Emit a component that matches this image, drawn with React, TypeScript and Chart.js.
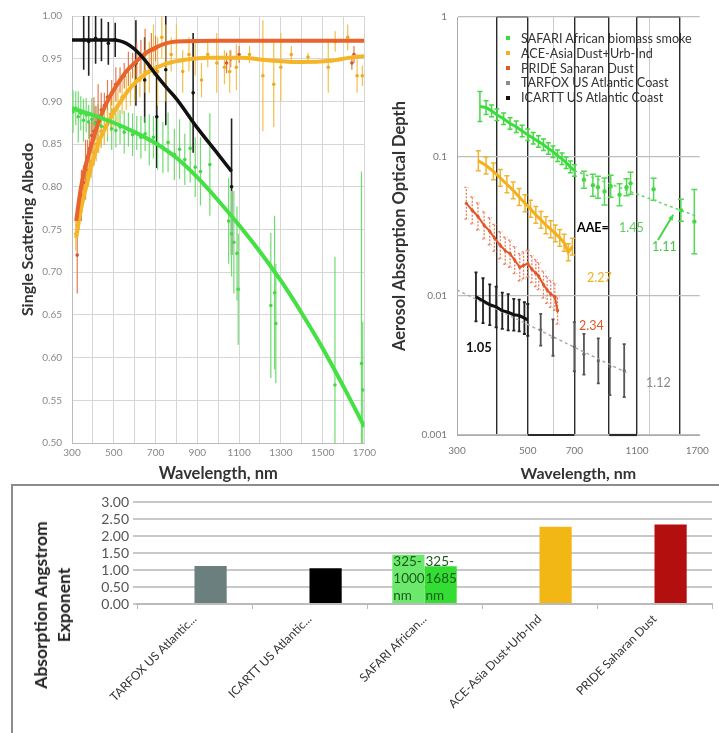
import React, { useEffect, useRef } from "react";
import { Chart, registerables } from "chart.js";
Chart.register(...registerables);

const FONT = 'Lato, "Liberation Sans", "DejaVu Sans", sans-serif';
Chart.defaults.font.family = FONT;

// ================= Panel 1: Single Scattering Albedo =================
const ssaXLabels = [300, 500, 700, 900, 1100, 1300, 1500, 1700];

const ssaSafariWl = [305, 318, 330, 342, 355, 368, 380, 395, 410, 425, 440, 455, 470, 490, 510, 530, 550, 570, 590, 610, 630, 650, 670, 690, 710, 735, 760, 790, 815, 840, 866, 890, 915, 960, 1050, 1064, 1075, 1090, 1096, 1252, 1270, 1276, 1559, 1686, 1692];
const ssaSafariVal = [0.888, 0.892, 0.882, 0.886, 0.878, 0.884, 0.876, 0.879, 0.874, 0.877, 0.871, 0.869, 0.873, 0.868, 0.866, 0.870, 0.864, 0.867, 0.861, 0.863, 0.858, 0.862, 0.855, 0.858, 0.850, 0.846, 0.852, 0.838, 0.844, 0.832, 0.845, 0.823, 0.818, 0.826, 0.760, 0.745, 0.735, 0.722, 0.680, 0.661, 0.676, 0.640, 0.568, 0.593, 0.562];
const ssaSafariErr = [0.025, 0.02, 0.03, 0.02, 0.025, 0.02, 0.02, 0.025, 0.02, 0.02, 0.025, 0.02, 0.02, 0.025, 0.02, 0.02, 0.025, 0.02, 0.025, 0.02, 0.025, 0.02, 0.03, 0.025, 0.03, 0.03, 0.035, 0.03, 0.035, 0.03, 0.04, 0.035, 0.04, 0.06, 0.05, 0.05, 0.06, 0.055, 0.065, 0.085, 0.09, 0.07, 0.15, 0.225, 0.08];

const ssaAceWl = [318, 326, 334, 342, 350, 360, 370, 380, 392, 404, 416, 428, 440, 455, 470, 485, 500, 520, 540, 560, 580, 600, 625, 650, 670, 690, 710, 730, 750, 775, 800, 830, 860, 890, 920, 950, 993, 1030, 1055, 1087, 1150, 1214, 1266, 1300, 1350, 1430, 1527, 1560, 1620, 1665, 1690];
const ssaAceVal = [0.745, 0.755, 0.77, 0.78, 0.79, 0.80, 0.815, 0.82, 0.83, 0.84, 0.85, 0.855, 0.865, 0.87, 0.875, 0.885, 0.89, 0.895, 0.905, 0.91, 0.915, 0.92, 0.925, 0.935, 0.94, 0.96, 0.935, 0.975, 0.945, 0.955, 0.97, 0.935, 0.955, 0.95, 0.925, 0.955, 0.945, 0.94, 0.935, 0.94, 0.955, 0.93, 0.92, 0.94, 0.955, 0.952, 0.94, 0.97, 0.975, 0.93, 0.93];
const ssaAceErr = [0.02, 0.015, 0.02, 0.015, 0.02, 0.015, 0.02, 0.02, 0.02, 0.015, 0.02, 0.015, 0.02, 0.02, 0.015, 0.02, 0.02, 0.02, 0.02, 0.02, 0.02, 0.02, 0.02, 0.025, 0.03, 0.03, 0.04, 0.025, 0.045, 0.02, 0.02, 0.025, 0.02, 0.02, 0.02, 0.015, 0.035, 0.02, 0.025, 0.027, 0.01, 0.065, 0.05, 0.04, 0.01, 0.005, 0.03, 0.012, 0.015, 0.02, 0.012];

const ssaPrideWl = [325, 335, 345, 355, 365, 375, 385, 395, 405, 415, 425, 440, 455, 470, 490, 510, 530, 550, 570, 590, 610, 630, 650, 680, 700, 1040, 1060, 1100, 1640, 1650];
const ssaPrideVal = [0.72, 0.77, 0.79, 0.805, 0.82, 0.835, 0.845, 0.86, 0.865, 0.875, 0.88, 0.89, 0.895, 0.905, 0.91, 0.92, 0.925, 0.93, 0.938, 0.942, 0.948, 0.952, 0.955, 0.96, 0.962, 0.945, 0.95, 0.955, 0.945, 0.955];
const ssaPrideErr = [0.045, 0.02, 0.03, 0.02, 0.035, 0.02, 0.03, 0.02, 0.04, 0.02, 0.04, 0.02, 0.015, 0.02, 0.015, 0.02, 0.015, 0.015, 0.02, 0.015, 0.02, 0.02, 0.03, 0.02, 0.015, 0.012, 0.01, 0.01, 0.008, 0.01];

const ssaIcarttWl = [356, 380, 413, 441, 474, 507, 606, 648, 706, 749, 880, 1064];
const ssaIcarttVal = [0.972, 0.970, 0.974, 0.972, 0.968, 0.972, 0.945, 0.925, 0.882, 0.937, 0.910, 0.800];
const ssaIcarttErr = [0.035, 0.04, 0.03, 0.025, 0.025, 0.02, 0.05, 0.05, 0.06, 0.065, 0.07, 0.08];

const fitSafariWl = [300, 400, 500, 600, 700, 800, 900, 1000, 1100, 1200, 1300, 1400, 1500, 1600, 1700];
const fitSafariVal = [0.892, 0.884, 0.875, 0.864, 0.851, 0.834, 0.811, 0.784, 0.755, 0.724, 0.690, 0.652, 0.611, 0.566, 0.519];
const fitPrideWl = [320, 340, 360, 380, 400, 440, 480, 520, 560, 600, 650, 700, 750, 800, 1000, 1700];
const fitPrideVal = [0.76, 0.795, 0.82, 0.838, 0.855, 0.884, 0.905, 0.921, 0.935, 0.945, 0.956, 0.963, 0.968, 0.970, 0.971, 0.971];
const fitAceWl = [320, 340, 360, 380, 400, 430, 470, 520, 580, 650, 750, 850, 950, 1100, 1250, 1400, 1550, 1650, 1700];
const fitAceVal = [0.74, 0.77, 0.792, 0.812, 0.83, 0.853, 0.874, 0.895, 0.916, 0.932, 0.944, 0.949, 0.951, 0.951, 0.948, 0.946, 0.948, 0.952, 0.953];
const fitIcarttWl = [300, 400, 500, 560, 600, 650, 700, 757, 800, 900, 1000, 1064];
const fitIcarttVal = [0.972, 0.972, 0.972, 0.968, 0.961, 0.948, 0.932, 0.915, 0.903, 0.869, 0.838, 0.818];

// ================= Panel 2: Aerosol Absorption Optical Depth =================
const aodXGrid = [300, 400, 500, 600, 700, 900, 1100, 1200, 1500, 1700];
const aodXLabels = [300, 500, 700, 1100, 1700];
const aodDarkLines = [400, 500, 700, 900, 1100, 1500];
const aodYTicks = [0.001, 0.01, 0.1, 1];
const aodBottomBands = [[500, 700], [900, 1100]];
const aodTopBands = [[400, 500], [700, 900], [1100, 1500]];

const aodSafariWl = [354, 370, 385, 400, 420, 440, 460, 480, 500, 520, 540, 560, 580, 600, 620, 640, 660, 680, 700];
const aodSafariVal = [0.228, 0.224, 0.212, 0.199, 0.186, 0.172, 0.163, 0.152, 0.143, 0.135, 0.128, 0.121, 0.114, 0.108, 0.101, 0.096, 0.090, 0.084, 0.079];
const aodSafariFac = [1.28, 1.12, 1.1, 1.1, 1.1, 1.1, 1.1, 1.1, 1.1, 1.1, 1.1, 1.1, 1.1, 1.1, 1.1, 1.1, 1.1, 1.1, 1.1];
const aodSafariFarWl = [750, 800, 830, 870, 910, 970, 1020, 1050, 1240, 1510, 1664];
const aodSafariFarVal = [0.068, 0.062, 0.060, 0.056, 0.061, 0.053, 0.060, 0.064, 0.058, 0.041, 0.034];
const aodSafariFarFac = [1.15, 1.2, 1.2, 1.25, 1.2, 1.2, 1.15, 1.2, 1.2, 1.2, 1.7];
const aodSafariFitWl = [700, 1700];
const aodSafariFitVal = [0.079, 0.037];

const aodAceWl = [350, 370, 390, 410, 430, 450, 470, 490, 510, 530, 550, 570, 590, 610, 630, 650, 670, 690];
const aodAceVal = [0.093, 0.086, 0.078, 0.070, 0.063, 0.057, 0.051, 0.046, 0.042, 0.038, 0.035, 0.032, 0.030, 0.028, 0.026, 0.024, 0.0205, 0.0225];
const aodAceFac = [1.18, 1.15, 1.15, 1.15, 1.15, 1.15, 1.15, 1.15, 1.15, 1.15, 1.15, 1.15, 1.15, 1.15, 1.15, 1.15, 1.15, 1.15];

const aodPrideWl = [321, 335, 349, 365, 380, 393, 410, 425, 440, 455, 472, 485, 500, 515, 530, 541, 560, 575, 590, 608, 620];
const aodPrideVal = [0.046, 0.041, 0.037, 0.032, 0.029, 0.026, 0.023, 0.021, 0.020, 0.018, 0.016, 0.0165, 0.017, 0.0155, 0.0145, 0.0138, 0.012, 0.011, 0.0103, 0.0098, 0.0078];
const aodPrideFac = [1.3, 1.25, 1.25, 1.25, 1.25, 1.25, 1.25, 1.25, 1.25, 1.25, 1.25, 1.25, 1.25, 1.25, 1.25, 1.25, 1.25, 1.25, 1.25, 1.25, 1.25];

const aodTarfoxWl = [549, 600, 700, 750, 832, 904, 1003];
const aodTarfoxVal = [0.0057, 0.0050, 0.0043, 0.0038, 0.0034, 0.0031, 0.0029];
const aodTarfoxFac = [1.3, 1.35, 1.5, 1.4, 1.45, 1.6, 1.55];
const aodTarfoxFitWl = [300, 1020];
const aodTarfoxFitVal = [0.0110, 0.0028];

const aodIcarttWl = [344, 362, 380, 398, 416, 434, 452, 470, 488, 500];
const aodIcarttVal = [0.0098, 0.0092, 0.0086, 0.0083, 0.0078, 0.0076, 0.0073, 0.0072, 0.0069, 0.0067];
const aodIcarttFac = [1.5, 1.45, 1.4, 1.4, 1.35, 1.35, 1.3, 1.3, 1.3, 1.3];

const aodArrowWl = [1280, 1429];
const aodArrowVal = [0.0251, 0.0381];

const legendItems = [
  { label: "SAFARI African biomass smoke", color: "#3cdc3c" },
  { label: "ACE-Asia Dust+Urb-Ind", color: "#f2b01e" },
  { label: "PRIDE Saharan Dust", color: "#e0582a" },
  { label: "TARFOX US Atlantic Coast", color: "#8a8a8a" },
  { label: "ICARTT US Atlantic Coast", color: "#111111" },
];

// ================= Panel 3: Absorption Angstrom Exponent =================
const aaeCategories = ["TARFOX US Atlantic...", "ICARTT US Atlantic...", "SAFARI African...", "ACE-Asia Dust+Urb-Ind", "PRIDE Saharan Dust"];
const aaeShortRange = [null, null, 1.45, null, null];
const aaeMain = [1.12, 1.05, 1.11, 2.27, 2.34];
const aaeYTicks = [0, 0.5, 1, 1.5, 2, 2.5, 3];
const aaeShortLabel = ["325-", "1000", "nm"];
const aaeLongLabel = ["325-", "1685", "nm"];

// ================= helpers =================
const GREEN = "#3cdc3c";
const ORANGE = "#f2b01e";
const RED = "#e0582a";
const BLACK = "#111111";

function pts(xs: number[], ys: number[]) {
  return xs.map((x, i) => ({ x, y: ys[i] }));
}
function linErr(v: number[], e: number[]) {
  return { lo: v.map((y, i) => y - e[i]), hi: v.map((y, i) => y + e[i]) };
}
function logErr(v: number[], f: number[]) {
  return { lo: v.map((y, i) => y / f[i]), hi: v.map((y, i) => y * f[i]) };
}

const errorBarPlugin = {
  id: "errorBars",
  beforeDatasetsDraw(chart: any) {
    const { ctx, chartArea, scales } = chart;
    ctx.save();
    ctx.beginPath();
    ctx.rect(chartArea.left, chartArea.top, chartArea.right - chartArea.left, chartArea.bottom - chartArea.top);
    ctx.clip();
    chart.data.datasets.forEach((ds: any, di: number) => {
      if (!ds.errLo) return;
      const meta = chart.getDatasetMeta(di);
      const xs = scales[meta.xAxisID];
      const ys = scales[meta.yAxisID];
      ctx.strokeStyle = ds.errColor;
      ctx.lineWidth = ds.errWidth || 1;
      ctx.setLineDash(ds.errDash || []);
      const cap = ds.errCap || 0;
      ds.data.forEach((p: any, i: number) => {
        const x = xs.getPixelForValue(p.x);
        const y1 = ys.getPixelForValue(ds.errLo[i]);
        const y2 = ys.getPixelForValue(ds.errHi[i]);
        ctx.beginPath();
        ctx.moveTo(x, y1);
        ctx.lineTo(x, y2);
        if (cap) {
          ctx.moveTo(x - cap, y1);
          ctx.lineTo(x + cap, y1);
          ctx.moveTo(x - cap, y2);
          ctx.lineTo(x + cap, y2);
        }
        ctx.stroke();
      });
    });
    ctx.restore();
  },
};

function pointSet(label: string, xs: number[], ys: number[], err: { lo: number[]; hi: number[] }, color: string, errColor: string, extra: any = {}) {
  return {
    label,
    data: pts(xs, ys),
    errLo: err.lo,
    errHi: err.hi,
    errColor,
    errWidth: 1.2,
    showLine: false,
    pointRadius: 1.8,
    pointBackgroundColor: color,
    pointBorderColor: color,
    pointBorderWidth: 0,
    borderColor: color,
    ...extra,
  };
}
function lineSet(label: string, xs: number[], ys: number[], color: string, width: number, extra: any = {}) {
  return {
    label,
    data: pts(xs, ys),
    showLine: true,
    borderColor: color,
    backgroundColor: color,
    borderWidth: width,
    pointRadius: 0,
    cubicInterpolationMode: "monotone",
    fill: false,
    ...extra,
  };
}

function ssaConfig(): any {
  return {
    type: "scatter",
    data: {
      datasets: [
        lineSet("ICARTT fit", fitIcarttWl, fitIcarttVal, BLACK, 3.5),
        lineSet("SAFARI fit", fitSafariWl, fitSafariVal, "#44e044", 4),
        lineSet("PRIDE fit", fitPrideWl, fitPrideVal, "#e8642c", 4),
        lineSet("ACE fit", fitAceWl, fitAceVal, "#f5b52a", 4),
        pointSet("ICARTT", ssaIcarttWl, ssaIcarttVal, linErr(ssaIcarttVal, ssaIcarttErr), BLACK, "#222", { errWidth: 1.6 }),
        pointSet("SAFARI", ssaSafariWl, ssaSafariVal, linErr(ssaSafariVal, ssaSafariErr), "#44d844", "#6fdc6f"),
        pointSet("PRIDE", ssaPrideWl, ssaPrideVal, linErr(ssaPrideVal, ssaPrideErr), "#d9542a", "#e07a50"),
        pointSet("ACE", ssaAceWl, ssaAceVal, linErr(ssaAceVal, ssaAceErr), "#eeaa20", "#f3c04a"),
      ],
    },
    options: {
      animation: false,
      responsive: false,
      devicePixelRatio: 1,
      layout: { padding: { top: 14, right: 8, left: 16, bottom: 0 } },
      plugins: { legend: { display: false }, tooltip: { enabled: false } },
      scales: {
        x: {
          type: "linear",
          min: 300,
          max: 1700,
          ticks: {
            stepSize: 100,
            autoSkip: false,
            maxRotation: 0,
            padding: 4,
            font: { size: 10 },
            color: "#888",
            callback: (v: any) => (ssaXLabels.includes(Number(v)) ? String(v) : ""),
          },
          grid: { color: "#d6d6d6", drawTicks: false },
          border: { color: "#bbb" },
          title: { display: true, text: "Wavelength, nm", font: { size: 16.5, weight: "bold" }, color: "#333", padding: { top: 0, bottom: 1 } },
          afterFit: (s: any) => {
            s.height = 42;
          },
        },
        y: {
          type: "linear",
          min: 0.5,
          max: 1.0,
          ticks: {
            stepSize: 0.05,
            padding: 10,
            font: { size: 10 },
            color: "#888",
            callback: (v: any) => Number(v).toFixed(2),
          },
          grid: { color: "#d6d6d6", drawTicks: false },
          border: { color: "#bbb" },
          title: { display: true, text: "Single Scattering Albedo", font: { size: 16, weight: "bold" }, color: "#333", padding: { top: 2, bottom: 2 } },
          afterFit: (s: any) => {
            s.width = 56;
          },
        },
      },
    },
    plugins: [errorBarPlugin],
  };
}

const aodExtrasPlugin = {
  id: "aodExtras",
  afterDatasetsDraw(chart: any) {
    const { ctx, scales, chartArea } = chart;
    const xs = scales.x;
    const ys = scales.y;
    ctx.save();
    const seg = (bands: number[][], y: number) =>
      bands.forEach(([a, b]) => {
        ctx.beginPath();
        ctx.moveTo(xs.getPixelForValue(a), y);
        ctx.lineTo(xs.getPixelForValue(b), y);
        ctx.stroke();
      });
    ctx.strokeStyle = "#2a2a2a";
    ctx.lineWidth = 2.2;
    seg(aodBottomBands, chartArea.bottom);
    ctx.strokeStyle = "#777";
    ctx.lineWidth = 1.4;
    seg(aodTopBands, chartArea.top);
    const x1 = xs.getPixelForValue(aodArrowWl[0]);
    const y1 = ys.getPixelForValue(aodArrowVal[0]);
    const x2 = xs.getPixelForValue(aodArrowWl[1]);
    const y2 = ys.getPixelForValue(aodArrowVal[1]);
    ctx.strokeStyle = "#44d844";
    ctx.fillStyle = "#44d844";
    ctx.lineWidth = 2;
    ctx.beginPath();
    ctx.moveTo(x1, y1);
    ctx.lineTo(x2, y2);
    ctx.stroke();
    const ang = Math.atan2(y2 - y1, x2 - x1);
    ctx.beginPath();
    ctx.moveTo(x2, y2);
    ctx.lineTo(x2 - 6 * Math.cos(ang - 0.45), y2 - 6 * Math.sin(ang - 0.45));
    ctx.lineTo(x2 - 6 * Math.cos(ang + 0.45), y2 - 6 * Math.sin(ang + 0.45));
    ctx.closePath();
    ctx.fill();
    ctx.restore();
  },
};

function aodConfig(): any {
  return {
    type: "scatter",
    data: {
      datasets: [
        lineSet("ICARTT", aodIcarttWl, aodIcarttVal, BLACK, 3, {
          cubicInterpolationMode: "default",
          tension: 0,
          errLo: logErr(aodIcarttVal, aodIcarttFac).lo,
          errHi: logErr(aodIcarttVal, aodIcarttFac).hi,
          errColor: "#222",
          errWidth: 1.8,
          errCap: 1.5,
        }),
        lineSet("SAFARI", aodSafariWl, aodSafariVal, GREEN, 3, {
          cubicInterpolationMode: "default",
          tension: 0,
          errLo: logErr(aodSafariVal, aodSafariFac).lo,
          errHi: logErr(aodSafariVal, aodSafariFac).hi,
          errColor: "#44d844",
          errWidth: 1.5,
          errCap: 2.5,
        }),
        lineSet("ACE", aodAceWl, aodAceVal, ORANGE, 3, {
          cubicInterpolationMode: "default",
          tension: 0,
          errLo: logErr(aodAceVal, aodAceFac).lo,
          errHi: logErr(aodAceVal, aodAceFac).hi,
          errColor: "#f0b430",
          errWidth: 1.5,
          errCap: 2.5,
        }),
        lineSet("PRIDE", aodPrideWl, aodPrideVal, RED, 2, {
          cubicInterpolationMode: "default",
          tension: 0,
          pointRadius: 1.6,
          pointBackgroundColor: RED,
          pointBorderWidth: 0,
          errLo: logErr(aodPrideVal, aodPrideFac).lo,
          errHi: logErr(aodPrideVal, aodPrideFac).hi,
          errColor: "#e88060",
          errWidth: 1.3,
          errDash: [2, 1.5],
          errCap: 2,
        }),
        pointSet("SAFARI far", aodSafariFarWl, aodSafariFarVal, logErr(aodSafariFarVal, aodSafariFarFac), "#44d844", "#55d855", { errWidth: 1.5, errCap: 3, pointRadius: 2.2 }),
        pointSet("TARFOX", aodTarfoxWl, aodTarfoxVal, logErr(aodTarfoxVal, aodTarfoxFac), "#666", "#555", { errWidth: 1.8, errCap: 1.5, pointRadius: 1.6 }),
        lineSet("SAFARI fit", aodSafariFitWl, aodSafariFitVal, "#66d866", 1.5, { borderDash: [3, 3], cubicInterpolationMode: "default", tension: 0 }),
        lineSet("TARFOX fit", aodTarfoxFitWl, aodTarfoxFitVal, "#aaa", 1.5, { borderDash: [3, 3], cubicInterpolationMode: "default", tension: 0 }),
      ],
    },
    options: {
      animation: false,
      responsive: false,
      devicePixelRatio: 1,
      layout: { padding: { top: 17, right: 11, left: 8, bottom: 0 } },
      plugins: { legend: { display: false }, tooltip: { enabled: false } },
      scales: {
        x: {
          type: "logarithmic",
          bounds: "data",
          min: 300,
          max: 1730,
          afterBuildTicks: (s: any) => {
            s.ticks = aodXGrid.map((v) => ({ value: v }));
          },
          ticks: {
            autoSkip: false,
            maxRotation: 0,
            padding: 10,
            font: { size: 10 },
            color: "#777",
            callback: (v: any) => (aodXLabels.includes(Number(v)) ? String(v) : ""),
          },
          grid: {
            drawTicks: false,
            color: (c: any) => {
              const v = c.tick && c.tick.value;
              if (v === 300 || v === 1700) return "rgba(0,0,0,0)";
              return aodDarkLines.includes(v) ? "#2a2a2a" : "#cccccc";
            },
            lineWidth: (c: any) => (c.tick && aodDarkLines.includes(c.tick.value) ? 1.4 : 1),
          },
          border: { color: "#aaa" },
          title: { display: true, text: "Wavelength, nm", font: { size: 16, weight: "bold" }, color: "#333", padding: { top: 0, bottom: 2 } },
          afterFit: (s: any) => {
            s.height = 50;
          },
        },
        y: {
          type: "logarithmic",
          bounds: "data",
          min: 0.001,
          max: 1,
          afterBuildTicks: (s: any) => {
            s.ticks = aodYTicks.map((v) => ({ value: v }));
          },
          ticks: {
            padding: 10,
            font: { size: 10 },
            color: "#777",
            callback: (v: any) => String(v),
          },
          grid: { color: "#bdbdbd", lineWidth: 1.2, drawTicks: false },
          border: { color: "#aaa" },
          title: { display: true, text: "Aerosol Absorption Optical Depth", font: { size: 16.5, weight: "bold" }, color: "#333", padding: { top: 2, bottom: 2 } },
          afterFit: (s: any) => {
            s.width = 69;
          },
        },
      },
    },
    plugins: [errorBarPlugin, aodExtrasPlugin],
  };
}

const barLabelPlugin = {
  id: "barLabels",
  afterDatasetsDraw(chart: any) {
    const { ctx } = chart;
    const idx = 2;
    const draw = (di: number, lines: string[]) => {
      const el = chart.getDatasetMeta(di).data[idx];
      if (!el) return;
      const left = el.x - el.width / 2 + 1;
      ctx.save();
      ctx.fillStyle = "#185e18";
      ctx.font = `13.5px ${FONT}`;
      ctx.textBaseline = "middle";
      ctx.textAlign = "left";
      const base = el.base;
      for (let i = 0; i < lines.length; i++) {
        const line = lines[lines.length - 1 - i];
        ctx.fillText(line, left, base - 7 - i * 17);
      }
      ctx.restore();
    };
    draw(0, aaeShortLabel);
    draw(1, aaeLongLabel);
  },
};

function aaeConfig(): any {
  return {
    type: "bar",
    data: {
      labels: aaeCategories,
      datasets: [
        { label: "325-1000 nm", data: aaeShortRange, backgroundColor: "#6ce96c" },
        { label: "AAE", data: aaeMain, backgroundColor: ["#6b7f7e", "#000000", "#33dd33", "#f2b714", "#b30f0f"] },
      ],
    },
    options: {
      animation: false,
      responsive: false,
      devicePixelRatio: 1,
      layout: { padding: { top: 16, right: 7, left: 0, bottom: 0 } },
      plugins: { legend: { display: false }, tooltip: { enabled: false } },
      datasets: { bar: { categoryPercentage: 0.56, barPercentage: 1.0 } },
      scales: {
        x: {
          grid: { drawOnChartArea: false, offset: true, tickLength: 5, color: "#bbb" },
          border: { color: "#bbb", width: 2 },
          ticks: { minRotation: 45, maxRotation: 45, autoSkip: false, font: { size: 12 }, color: "#333" },
          afterFit: (s: any) => {
            s.height = 129;
          },
        },
        y: {
          min: 0,
          max: 3,
          afterBuildTicks: (s: any) => {
            s.ticks = aaeYTicks.map((v) => ({ value: v }));
          },
          ticks: { autoSkip: false, font: { size: 14 }, color: "#555", padding: 4, callback: (v: any) => Number(v).toFixed(2) },
          grid: { color: "#c8c8c8", lineWidth: 2, tickLength: 4 },
          border: { display: false },
          afterFit: (s: any) => {
            s.width = 125;
          },
        },
      },
    },
    plugins: [barLabelPlugin],
  };
}

function ChartCanvas({ make, left, top, width, height }: { make: () => any; left: number; top: number; width: number; height: number }) {
  const ref = useRef<HTMLCanvasElement>(null);
  useEffect(() => {
    const chart = new Chart(ref.current as HTMLCanvasElement, make());
    return () => chart.destroy();
  }, []);
  return <canvas ref={ref} width={width} height={height} style={{ position: "absolute", left, top, width, height }} />;
}

const annotations = [
  { text: "AAE=", left: 577, top: 221, color: "#000", size: 12.5, bold: true },
  { text: "1.45", left: 619, top: 221, color: "#5ccf5c", size: 12.5, bold: false },
  { text: "1.11", left: 652, top: 240, color: "#44c844", size: 12.5, bold: false },
  { text: "2.27", left: 587, top: 271, color: "#efb020", size: 12.5, bold: false },
  { text: "2.34", left: 579, top: 319, color: "#e0582a", size: 12.5, bold: false },
  { text: "1.05", left: 466, top: 340, color: "#111", size: 13, bold: true },
  { text: "1.12", left: 646, top: 376, color: "#8a8a8a", size: 12.5, bold: false },
];

export default function App() {
  return (
    <div style={{ position: "absolute", left: 0, top: 0, width: 719, height: 733, background: "#fff", overflow: "hidden", fontFamily: FONT }}>
      <ChartCanvas make={ssaConfig} left={0} top={0} width={380} height={485} />
      <ChartCanvas make={aodConfig} left={380} top={0} width={339} height={485} />
      <div style={{ position: "absolute", left: 506, top: 31 }}>
        {legendItems.map((it) => (
          <div key={it.label} style={{ display: "flex", alignItems: "center", height: 14.8, fontSize: 12.6, color: "#333", whiteSpace: "nowrap" }}>
            <span style={{ display: "inline-block", width: 4, height: 4, background: it.color, marginRight: 11 }} />
            {it.label}
          </div>
        ))}
      </div>
      {annotations.map((a) => (
        <div key={a.text + a.left} style={{ position: "absolute", left: a.left, top: a.top, fontSize: a.size, lineHeight: "14px", color: a.color, fontWeight: a.bold ? 700 : 400, whiteSpace: "nowrap" }}>
          {a.text}
        </div>
      ))}
      <div style={{ position: "absolute", left: 11, top: 484, width: 720, height: 260, borderTop: "2px solid #8c8c8c", borderLeft: "2px solid #8c8c8c", boxSizing: "border-box" }} />
      <ChartCanvas make={aaeConfig} left={12} top={486} width={707} height={247} />
      <div
        style={{
          position: "absolute",
          left: 52,
          top: 605,
          transform: "translate(-50%, -50%) rotate(-90deg)",
          fontSize: 17.5,
          fontWeight: 700,
          lineHeight: "23px",
          color: "#222",
          textAlign: "center",
          whiteSpace: "nowrap",
        }}
      >
        Absorption Angstrom
        <br />
        Exponent
      </div>
    </div>
  );
}
